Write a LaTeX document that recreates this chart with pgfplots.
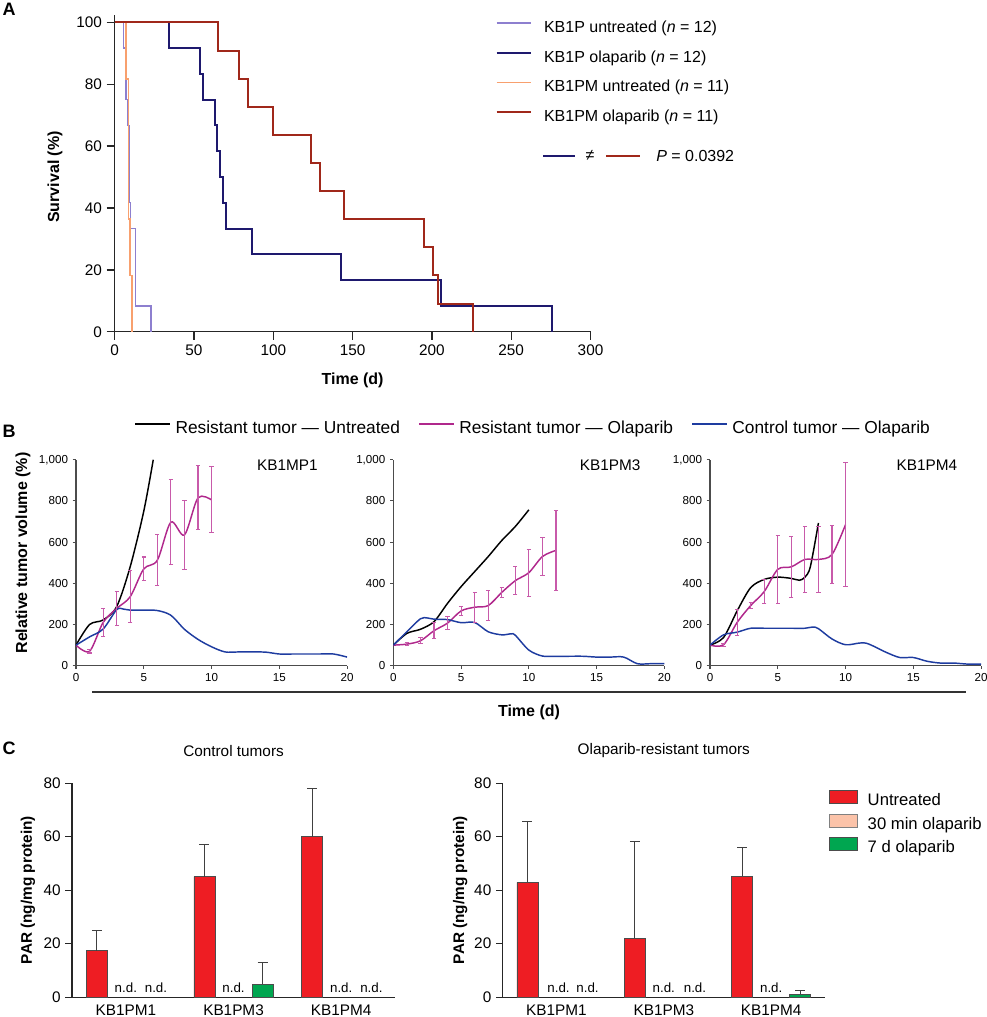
\documentclass[border=0pt]{standalone}
\usepackage{fontspec}
\setmainfont{Liberation Sans}
\usepackage{pgfplots}
\pgfplotsset{compat=1.18}

\definecolor{kbpu}{HTML}{8D7FCF}
\definecolor{kbpo}{HTML}{1E196E}
\definecolor{kbpmu}{HTML}{F8A06E}
\definecolor{kbpmo}{HTML}{A0281A}
\definecolor{resol}{HTML}{B0288C}
\definecolor{errmag}{HTML}{C85AAA}
\definecolor{ctrl}{HTML}{1E3CA0}
\definecolor{parred}{HTML}{EE1D23}
\definecolor{peach}{HTML}{FBC3A9}
\definecolor{pargreen}{HTML}{00A650}

\newcommand{\fs}[1]{\fontsize{#1}{#1}\selectfont}

\tikzset{nd/.style={font=\fs{10}, anchor=south, inner sep=0pt}}

\pgfplotsset{
  base/.style={scale only axis, anchor=south west,
    axis x line*=bottom, axis y line*=left, axis line style={-},
    tick align=outside, enlargelimits=false,
    /pgf/number format/assume math mode=true},
  bpanel/.style={base, width=203.3pt, height=154.5pt,
    xmin=0, xmax=20, ymin=0, ymax=1000,
    xtick={0,5,...,20}, ytick={0,200,...,1000},
    axis line style={line width=0.8pt, black!70},
    major tick style={line width=0.8pt, black!70}, major tick length=2.5pt,
    tick label style={font=\fs{8.7}}, clip mode=individual},
  cpanel/.style={base, height=160.5pt,
    xmin=0.5, xmax=3.5, ymin=0, ymax=80,
    ytick={0,20,...,80}, xtick={1,2,3},
    xticklabels={KB1PM1,KB1PM3,KB1PM4},
    x tick style={draw=none}, xticklabel style={inner sep=0pt, yshift=-0.8pt},
    axis line style={line width=0.8pt, black!85},
    major tick style={line width=0.8pt, black!85}, major tick length=5pt,
    tick label style={font=\fs{11.5}},
    ylabel={PAR (ng/mg protein)},
    label style={font=\bfseries\fs{11.5}},
    ylabel style={at={(axis description cs:-0.136,0.5)}, anchor=center},
    title style={at={(axis description cs:0.5,1.113)}, anchor=center, font=\fs{11.5}}},
  bars/.style={ybar, bar width=0.195, bar shift=0pt, line width=0.5pt,
    error bars/y dir=plus, error bars/y explicit,
    error bars/error bar style={line width=0.8pt, black!75},
    error bars/error mark options={rotate=90, line width=0.8pt, black!75, mark size=3.75pt}},
  errb/.style={draw=none, mark=none,
    error bars/y dir=both, error bars/y explicit,
    error bars/error bar style={draw=errmag, line width=0.8pt},
    error bars/error mark options={rotate=90, draw=errmag, line width=0.8pt, mark size=1.6pt}},
}

\begin{document}
\begin{tikzpicture}
\path[use as bounding box] (0,0) rectangle (740.25pt,-762.75pt);

% ---------- A: survival ----------
\begin{axis}[base, at={(86pt,-248.8pt)}, width=356.9pt, height=237.8pt,
  xmin=0, xmax=300, ymin=0, ymax=102.5,
  xtick={0,50,...,300}, ytick={0,20,...,100},
  axis line style={line width=1pt, black!85},
  major tick style={line width=1pt, black!85}, major tick length=6pt,
  tick label style={font=\fs{11.5}},
  xlabel={Time (d)}, ylabel={Survival (\%)},
  label style={font=\bfseries\fs{12}},
  xlabel style={at={(axis description cs:0.5,-0.152)}, anchor=center},
  ylabel style={at={(axis description cs:-0.1255,0.488)}, anchor=center},
  clip=false,
  legend cell align=left,
  legend image code/.code={\draw[#1] (0pt,4pt) -- (26pt,4pt);},
  legend style={at={(axis description cs:0.80,0.981)}, anchor=north west,
    draw=none, fill=none, inner sep=0pt, row sep=11.2pt, font=\fs{12},
    nodes={inner sep=0pt, text height=8.6pt, text depth=2.5pt},
    /tikz/every odd column/.append style={column sep=8.8pt}},
]
\addplot[kbpu, line width=1.1pt, const plot] coordinates {
  (0,100) (5.5,91.7) (7,75) (8,66.7) (9,41.7) (10,33.3) (13,8.3) (23,0)};
\addlegendentry{KB1P untreated (\textit{n} = 12)}
\addplot[kbpo, line width=1.5pt, const plot] coordinates {
  (0,100) (34,91.7) (54,83.3) (55.5,75) (63,66.7) (64.5,58.3) (66.5,50)
  (68,41.7) (70,33.3) (86.5,25) (142.5,16.7) (205.5,8.3) (276,0)};
\addlegendentry{KB1P olaparib (\textit{n} = 12)}
\addplot[kbpmu, line width=1.2pt, const plot] coordinates {
  (0,100) (7.3,81.8) (8.8,36.4) (9.6,18.2) (11.1,0)};
\addlegendentry{KB1PM untreated (\textit{n} = 11)}
\addplot[kbpmo, line width=1.5pt, const plot] coordinates {
  (0,100) (65,90.9) (78.4,81.8) (84,72.7) (100,63.6) (123.7,54.5)
  (129.7,45.5) (144.3,36.4) (195,27.3) (200.9,18.2) (203.9,9.1) (225.9,0)};
\addlegendentry{KB1PM olaparib (\textit{n} = 11)}
\end{axis}

% ---------- B: tumour volume ----------
\begin{axis}[bpanel, at={(57pt,-499.3pt)},
  ylabel={Relative tumor volume (\%)},
  label style={font=\bfseries\fs{12}},
  ylabel style={at={(axis description cs:-0.196,0.547)}, anchor=center},
  legend columns=3,
  legend image code/.code={\draw[#1, line width=1.7pt] (0pt,4pt) -- (26.25pt,4pt);},
  legend style={at={(axis description cs:0.214,1.149)}, anchor=west,
    draw=none, fill=none, inner sep=0pt, font=\fs{13},
    nodes={inner sep=0pt, text height=9.3pt, text depth=2.7pt},
    /tikz/every odd column/.append style={column sep=3pt},
    /tikz/every even column/.append style={column sep=13.5pt}},
]
\addplot[black, line width=1.1pt, smooth] coordinates {
  (0,100) (1,200) (2,222) (3,287) (4,481) (5,750) (5.7,1000)};
\addlegendentry{Resistant tumor — Untreated}
\addplot[resol, line width=1.1pt, smooth] table {
x y
0 100
1 70
2 210
3 278
4 335
5 470
6 512
7 697
8 635
9 815
10 805
};
\addlegendentry{Resistant tumor — Olaparib}
\addplot[ctrl, line width=1.1pt, smooth] coordinates {
  (0,100) (1,140) (2,178) (3,272) (3.5,275) (4,270) (5,270) (6,268)
  (7,245) (8,177) (9,128) (10,92) (11,67) (12,67) (13,67) (14,66)
  (15,57) (16,57) (17,57) (18,57) (19,57) (20,42)};
\addlegendentry{Control tumor — Olaparib}
\addplot[errb, forget plot] table[x=x, y=y, y error=e] {
x y e
1 70 8
2 210 67
3 278 83
4 335 127
5 470 58
6 512 124
7 697 205
8 635 166
9 815 155
10 805 160
};
\node[font=\fs{11.5}] at (rel axis cs:0.78,0.974) {KB1MP1};
\end{axis}

\begin{axis}[bpanel, at={(295pt,-499.3pt)}]
\addplot[black, line width=1.1pt, smooth] coordinates {
  (0,100) (1,157) (2,177) (3,214) (4,303) (5,384) (6,457) (7,530)
  (8,608) (9,676) (10,757)};
\addplot[resol, line width=1.1pt, smooth] coordinates {
  (0,100) (1,105) (2,121) (3,170) (4,207) (5,266) (6,284) (7,292)
  (8,356) (9,413) (10,452) (11,530) (12,560)};
\addplot[ctrl, line width=1.1pt, smooth] coordinates {
  (0,100) (1,165) (2,228) (2.5,232) (3,226) (4,224) (5,209) (6,210)
  (7,165) (8,150) (8.7,155) (9,148) (10,76) (11,47) (12,46) (13,46)
  (14,46) (15,42) (16,42) (17,42) (18,10) (19,10) (20,10)};
\addplot[errb] table[x=x, y=y, y error=e] {
x y e
1 105 7
2 121 14
3 170 39
4 207 33
5 266 20
6 284 73
7 292 71
8 356 23
9 413 67
10 452 114
11 530 93
12 560 194
};
\node[font=\fs{11.5}] at (rel axis cs:0.80,0.974) {KB1PM3};
\end{axis}

\begin{axis}[bpanel, at={(532.5pt,-499.3pt)}]
\addplot[black, line width=1.1pt, smooth] coordinates {
  (0,100) (1,137) (2,266) (3,379) (4,419) (5,430) (6,424) (6.6,415)
  (7,430) (7.4,480) (8,693)};
\addplot[resol, line width=1.1pt, smooth] coordinates {
  (0,100) (1,102) (2,210) (3,292) (4,360) (5,468) (6,480) (7,516)
  (8,516) (9,540) (10,685)};
\addplot[ctrl, line width=1.1pt, smooth] coordinates {
  (0,100) (1,150) (2,163) (3,182) (4,182) (5,182) (6,182) (7,182)
  (7.6,188) (8,180) (9,130) (10,102) (11,110) (11.5,110) (12,97)
  (13,65) (14,40) (15,40) (16,22) (17,13) (18,13) (19,8) (20,8)};
\addplot[errb] table[x=x, y=y, y error=e] {
x y e
1 102 7
2 210 63
3 292 14
4 360 59
5 468 164
6 480 148
7 516 161
8 516 161
9 540 143
10 685 300
};
\node[font=\fs{11.5}] at (rel axis cs:0.80,0.974) {KB1PM4};
\end{axis}

% ---------- C: PAR levels ----------
\begin{axis}[cpanel, at={(54pt,-747.8pt)}, width=242.3pt,
  title={Control tumors}]
\addplot[bars, fill=parred, draw=black!70] table[x=x, y=y, y error=e] {
x y e
0.73 17.3 7.5
1.73 45 12
2.73 60 18
};
\addplot[bars, fill=pargreen, draw=black!70] table[x=x, y=y, y error=e] {
x y e
2.27 4.8 8.3
};
\node[nd] at (axis cs:1.0,1.5) {n.d.};
\node[nd] at (axis cs:1.28,1.5) {n.d.};
\node[nd] at (axis cs:2.0,1.5) {n.d.};
\node[nd] at (axis cs:3.0,1.5) {n.d.};
\node[nd] at (axis cs:3.28,1.5) {n.d.};
\end{axis}

\begin{axis}[cpanel, at={(377pt,-747.8pt)}, width=241.7pt,
  title={Olaparib-resistant tumors},
  ylabel style={at={(axis description cs:-0.132,0.5)}, anchor=center},
  legend cell align=left,
  legend image code/.code={\draw[#1] (0pt,-1.5pt) rectangle (21pt,8.25pt);},
  legend style={at={(axis description cs:1.012,0.967)}, anchor=north west,
    draw=none, fill=none, inner sep=0pt, row sep=3.55pt, font=\fs{12.5},
    nodes={inner sep=0pt, text height=8.6pt, text depth=2.5pt},
    /tikz/every odd column/.append style={column sep=7.5pt}},
]
\addplot[bars, fill=parred, draw=black!70] table[x=x, y=y, y error=e] {
x y e
0.73 42.9 22.9
1.73 21.9 36.1
2.73 45.2 10.6
};
\addlegendentry{Untreated}
\addlegendimage{fill=peach, draw=black!50, line width=0.5pt}
\addlegendentry{30 min olaparib}
\addplot[bars, fill=pargreen, draw=black!70] table[x=x, y=y, y error=e] {
x y e
3.27 1.1 1.3
};
\addlegendentry{7 d olaparib}
\node[nd] at (axis cs:1.02,1.5) {n.d.};
\node[nd] at (axis cs:1.29,1.5) {n.d.};
\node[nd] at (axis cs:2.0,1.5) {n.d.};
\node[nd] at (axis cs:2.29,1.5) {n.d.};
\node[nd] at (axis cs:3.0,1.5) {n.d.};
\end{axis}

% ---------- annotations in pixel units ----------
\begin{scope}[x=0.75pt, y=-0.75pt]
\node[font=\bfseries\fs{13.5}] at (9,9) {A};
\node[font=\bfseries\fs{13.5}] at (9,431) {B};
\node[font=\bfseries\fs{13.5}] at (9,748) {C};
\draw[kbpo, line width=1.5pt] (543,155.7) -- (575,155.7);
\node[font=\fs{12}] at (590,155.7) {≠};
\draw[kbpmo, line width=1.5pt] (606,155.7) -- (640,155.7);
\node[font=\fs{12}, anchor=west, inner sep=0pt] at (656,155.7) {\textit{P} = 0.0392};
\draw[black!80, line width=0.9pt] (92,692) -- (966,692);
\node[font=\bfseries\fs{12}] at (529,712) {Time (d)};
\end{scope}
\end{tikzpicture}
\end{document}
